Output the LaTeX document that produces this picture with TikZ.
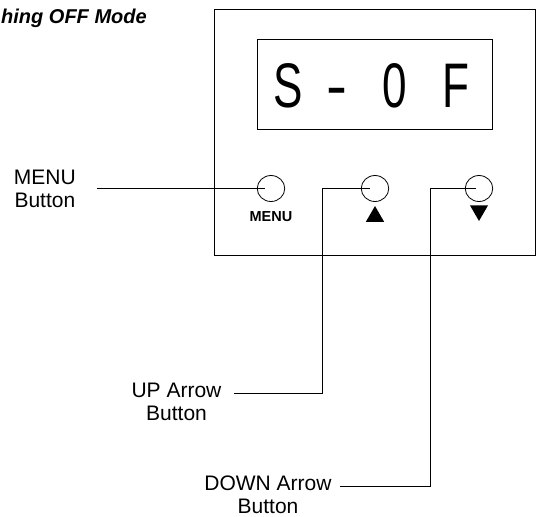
\documentclass[tikz,border=0pt]{standalone}
\usepackage{fontspec}
\setmainfont{Liberation Sans}
\usepackage{graphicx}
\usetikzlibrary{shapes.geometric}

\tikzset{
    lbl/.style={align=center, inner sep=0pt, font=\fontsize{21}{23}\selectfont},
    btn/.style={draw, ellipse, minimum width=27.5pt, minimum height=26pt, inner sep=0pt, line width=0.8pt},
    segchar/.style={inner sep=0pt, anchor=base, font=\fontsize{63}{63}\selectfont},
    leader/.style={line width=1pt},
    arrowmark/.style={fill, regular polygon, regular polygon sides=3, minimum size=21pt, inner sep=0pt, outer sep=0pt},
}

\begin{document}
\begin{tikzpicture}[x=1pt, y=-1pt]
    \useasboundingbox (0,0) rectangle (536,517);

            %----- TITLE -----
            \node[anchor=base west, inner sep=0pt, font=\fontsize{20}{24}\selectfont\bfseries\itshape] (title) at (1,23) {hing OFF Mode};

            %----- PANEL AND DISPLAY -----
            \node[draw, line width=1pt, anchor=north west, minimum width=321pt, minimum height=246pt, inner sep=0pt] (panel) at (214,9) {};
            \node[draw, line width=1pt, anchor=north west, minimum width=235pt, minimum height=90pt, inner sep=0pt] (display) at (257,39) {};

            \node[segchar] (segS) at (288.5,107) {\scalebox{0.7}[1]{S}};
            \node[segchar] (segdash) at (337,107) {-};
            \node[segchar] (segzero) at (395,107) {\scalebox{0.7}[1]{0}};
            \node[segchar] (segF) at (455.5,107) {\scalebox{0.7}[1]{F}};

            %----- BUTTONS -----
            \node[btn] (menubtn) at (271,188.5) {};
            \node[btn] (upbtn) at (375,188.5) {};
            \node[btn] (downbtn) at (479,188.5) {};

            \node[anchor=base, inner sep=0pt, font=\fontsize{14.5}{16}\selectfont\bfseries] (menumark) at (271,221) {MENU};
            \node[arrowmark] (upmark) at (375,216.5) {};
            \node[arrowmark, shape border rotate=180] (downmark) at (479,210.5) {};

            %----- LABELS -----
            \node[lbl, anchor=east] (menulbl) at (76,188.5) {MENU\\Button};
            \node[lbl, anchor=north] (uplbl) at (176.5,383) {UP Arrow\\Button};
            \node[lbl, anchor=north] (downlbl) at (268,475.7) {DOWN Arrow\\Button};

            %----- LEADER LINES -----
            \coordinate (upstart) at (234,393);
            \coordinate (upknee) at (322,393);
            \coordinate (downstart) at (340,486);
            \coordinate (downknee) at (430,486);

            \draw[leader, shorten >=6pt] ([xshift=21pt]menulbl.east) -- (menubtn.center);
            \draw[leader, shorten >=5pt] (upstart) -- (upknee) |- (upbtn.center);
            \draw[leader, shorten >=3pt] (downstart) -- (downknee) |- (downbtn.center);

\end{tikzpicture}
\end{document}
